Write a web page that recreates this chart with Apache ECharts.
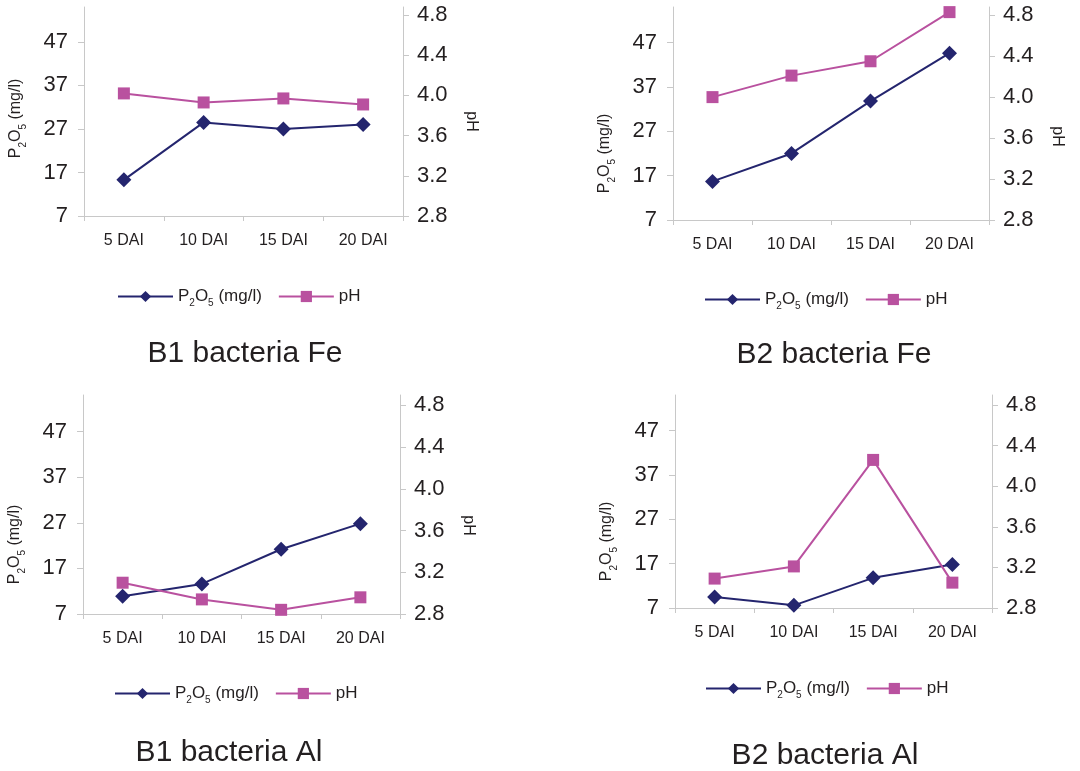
<!DOCTYPE html>
<html>
<head>
<meta charset="utf-8">
<script src="https://cdn.jsdelivr.net/npm/echarts@6/dist/echarts.min.js"></script>
<style>
html,body{margin:0;padding:0;background:#fff;}
#main{width:1080px;height:771px;}
</style>
</head>
<body>
<div id="main"></div>
<script>
// ---- data ----
var categories = ['5 DAI', '10 DAI', '15 DAI', '20 DAI'];
var b1FeP2O5 = [15.3, 28.5, 27.0, 28.0];
var b1FePH   = [4.02, 3.93, 3.97, 3.91];
var b2FeP2O5 = [15.7, 22.0, 33.8, 44.6];
var b2FePH   = [4.00, 4.21, 4.35, 4.83];
var b1AlP2O5 = [10.9, 13.6, 21.2, 26.8];
var b1AlPH   = [3.10, 2.94, 2.84, 2.96];
var b2AlP2O5 = [9.5, 7.6, 13.8, 16.8];
var b2AlPH   = [3.09, 3.21, 4.26, 3.05];
var p2o5Ticks = [7, 17, 27, 37, 47];
var phTicks = [2.8, 3.2, 3.6, 4.0, 4.4, 4.8];
var panelTitles = ['B1 bacteria Fe', 'B2 bacteria Fe', 'B1 bacteria Al', 'B2 bacteria Al'];
var seriesNames = ['P2O5 (mg/l)', 'pH'];

// ---- styles ----
var FONT = 'Liberation Sans, Arial, Helvetica, sans-serif';
var NAVY = '#24256e';
var PINK = '#b9519f';
var AXIS_GRAY = '#c8c8c8';
var TEXT = '#231f20';

var panels = [
  {p: b1FeP2O5, ph: b1FePH, grid: {left: 84, top: 7, width: 319, height: 209}, phMax: 4.88,
   leftPad: 14, rightName: true, rightPad: 20, legend: {left: 112, top: 283}, title: {left: 240, top: 334}},
  {p: b2FeP2O5, ph: b2FePH, grid: {left: 673, top: 7, width: 316, height: 213}, phMax: 4.88,
   leftPad: 80, rightName: true, rightPad: 46, legend: {left: 699, top: 286}, title: {left: 829, top: 335}},
  {p: b1AlP2O5, ph: b1AlPH, grid: {left: 83, top: 395, width: 317, height: 219}, phMax: 4.9,
   leftPad: 80, rightName: true, rightPad: 42, legend: {left: 109, top: 680}, title: {left: 224, top: 733}},
  {p: b2AlP2O5, ph: b2AlPH, grid: {left: 675, top: 395, width: 317, height: 213}, phMax: 4.9,
   leftPad: 80, rightName: false, rightPad: 0, legend: {left: 700, top: 675}, title: {left: 820, top: 736}}
];

var richName = {
  n: {fontSize: 16, fontFamily: FONT, color: TEXT, lineHeight: 24},
  s: {fontSize: 10, fontFamily: FONT, color: TEXT, verticalAlign: 'bottom', lineHeight: 10}
};
var richLegend = {
  n: {fontSize: 17, fontFamily: FONT, color: TEXT, lineHeight: 24},
  s: {fontSize: 10, fontFamily: FONT, color: TEXT, verticalAlign: 'bottom', lineHeight: 10}
};
var p2o5Rich = '{n|P}{s|2}{n|O}{s|5}{n| (mg/l)}';

var option = {
  animation: false,
  backgroundColor: '#fff',
  grid: [], xAxis: [], yAxis: [], series: [], legend: [], title: []
};

panels.forEach(function (pn, i) {
  option.grid.push(pn.grid);
  option.xAxis.push({
    type: 'category', gridIndex: i, data: categories, boundaryGap: true,
    axisLine: {lineStyle: {color: AXIS_GRAY, width: 1}},
    axisTick: {show: true, length: 5, lineStyle: {color: AXIS_GRAY}},
    axisLabel: {fontSize: 16, fontFamily: FONT, color: TEXT, margin: 17},
    splitLine: {show: false}
  });
  option.yAxis.push({
    type: 'value', gridIndex: i, position: 'left', min: 7, max: 55,
    name: p2o5Rich, nameLocation: 'middle', nameGap: 56, nameRotate: 90,
    nameTextStyle: {rich: richName, padding: [0, pn.leftPad, 0, 0]},
    axisLine: {show: true, lineStyle: {color: AXIS_GRAY, width: 1}},
    axisTick: {show: true, length: 6, lineStyle: {color: AXIS_GRAY}, customValues: p2o5Ticks},
    axisLabel: {fontSize: 22, fontFamily: FONT, color: TEXT, margin: 16, customValues: p2o5Ticks},
    splitLine: {show: false}
  });
  option.yAxis.push({
    type: 'value', gridIndex: i, position: 'right', min: 2.8, max: pn.phMax,
    name: pn.rightName ? 'pH' : '', nameLocation: 'middle', nameGap: 60, nameRotate: -90,
    nameTextStyle: {fontSize: 16, fontFamily: FONT, color: TEXT, padding: [0, 0, 0, pn.rightPad]},
    axisLine: {show: true, lineStyle: {color: AXIS_GRAY, width: 1}},
    axisTick: {show: true, length: 6, lineStyle: {color: AXIS_GRAY}, customValues: phTicks},
    axisLabel: {fontSize: 22, fontFamily: FONT, color: TEXT, margin: 14, customValues: phTicks,
      formatter: function (v) { return v.toFixed(1); }},
    splitLine: {show: false}
  });
  option.series.push({
    name: seriesNames[0], type: 'line', xAxisIndex: i, yAxisIndex: 2 * i, data: pn.p,
    symbol: 'diamond', symbolSize: 15, color: NAVY,
    lineStyle: {color: NAVY, width: 2}, itemStyle: {color: NAVY}
  });
  option.series.push({
    name: seriesNames[1], type: 'line', xAxisIndex: i, yAxisIndex: 2 * i + 1, data: pn.ph,
    symbol: 'rect', symbolSize: 12, color: PINK,
    lineStyle: {color: PINK, width: 2}, itemStyle: {color: PINK}
  });
  option.legend.push({
    left: pn.legend.left, top: pn.legend.top, orient: 'horizontal',
    data: seriesNames, itemWidth: 55, itemHeight: 14, itemGap: 16,
    selectedMode: false,
    formatter: function (name) { return name === seriesNames[0] ? p2o5Rich : '{n|pH}'; },
    textStyle: {rich: richLegend, fontSize: 17, fontFamily: FONT, color: TEXT}
  });
  option.title.push({
    text: panelTitles[i], left: pn.title.left, top: pn.title.top, textAlign: 'center',
    textStyle: {fontSize: 30, fontWeight: 'normal', fontFamily: FONT, color: TEXT}
  });
});

var chart = echarts.init(document.getElementById('main'), null, {renderer: 'canvas'});
chart.setOption(option);
</script>
</body>
</html>
